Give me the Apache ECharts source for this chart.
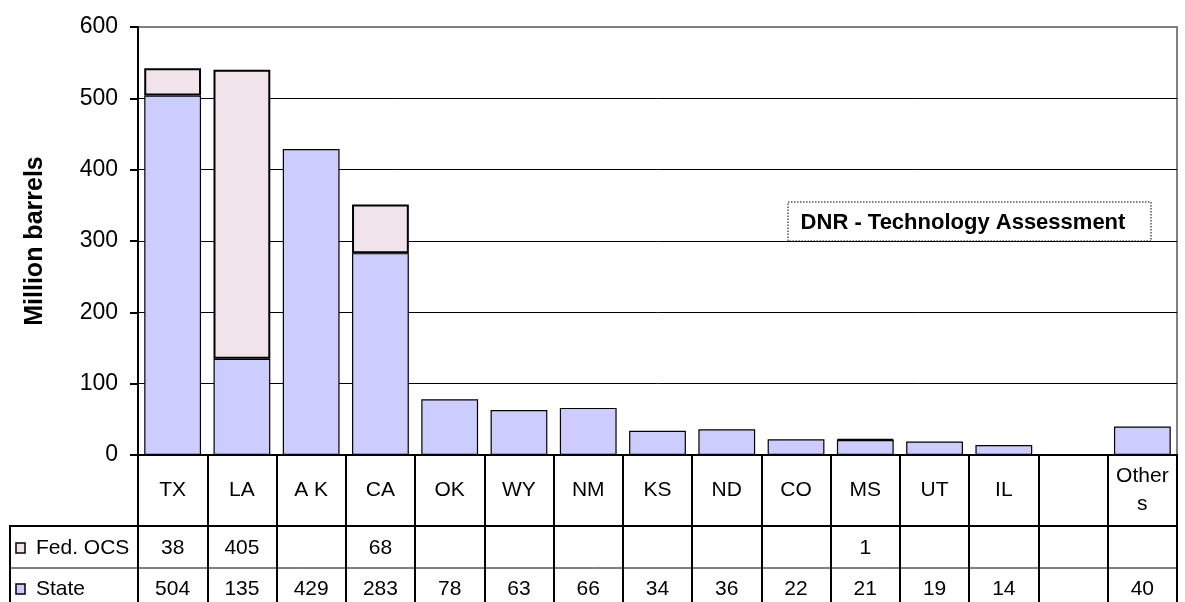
<!DOCTYPE html>
<html>
<head>
<meta charset="utf-8">
<script src="https://cdn.jsdelivr.net/npm/echarts@6/dist/echarts.min.js"></script>
<style>
  html, body { margin: 0; padding: 0; background: #fff; }
  #main { width: 1185px; height: 602px; }
</style>
</head>
<body>
<div id="main"></div>
<script type="text/javascript">
// data
var states = ['TX', 'LA', 'AK', 'CA', 'OK', 'WY', 'NM', 'KS', 'ND', 'CO', 'MS', 'UT', 'IL', '', 'Others'];
var stateLabels = ['TX', 'LA', 'A K', 'CA', 'OK', 'WY', 'NM', 'KS', 'ND', 'CO', 'MS', 'UT', 'IL', '', 'Other\ns'];
var fedOcs = [38, 405, null, 68, null, null, null, null, null, null, 1, null, null, null, null];
var stateVals = [504, 135, 429, 283, 78, 63, 66, 34, 36, 22, 21, 19, 14, null, 40];
var yTicks = [0, 100, 200, 300, 400, 500, 600];

var fedColor = '#f0e4ea';
var stateColor = '#ccccff';
var font = 'Liberation Sans, Arial, sans-serif';

var chart = echarts.init(document.getElementById('main'));

var option = {
  animation: false,
  grid: { left: 138, right: 8, top: 27, bottom: 147, show: true, borderColor: '#808080', borderWidth: 2, backgroundColor: 'transparent' },
  xAxis: {
    type: 'category',
    data: states,
    axisLine: { lineStyle: { color: '#000', width: 2 } },
    axisTick: { show: true, length: 147, lineStyle: { color: '#000', width: 2 } },
    axisLabel: { show: false }
  },
  yAxis: {
    type: 'value',
    min: yTicks[0],
    max: yTicks[yTicks.length - 1],
    interval: 100,
    name: 'Million barrels',
    nameLocation: 'middle',
    nameGap: 90,
    nameTextStyle: { fontFamily: font, fontSize: 25, fontWeight: 'bold', color: '#000' },
    axisLine: { show: true, lineStyle: { color: '#000', width: 2 } },
    axisTick: { show: true, length: 8, lineStyle: { color: '#000', width: 2 } },
    axisLabel: { fontFamily: font, fontSize: 23, color: '#000', margin: 20 },
    splitLine: { showMaxLine: false, lineStyle: { color: '#000', width: 1 } }
  },
  series: [
    {
      name: 'State',
      type: 'bar',
      stack: 'total',
      data: stateVals,
      barCategoryGap: '18%',
      itemStyle: { color: stateColor, borderColor: '#000', borderWidth: 1.2 }
    },
    {
      name: 'Fed. OCS',
      type: 'bar',
      stack: 'total',
      data: fedOcs,
      itemStyle: { color: fedColor, borderColor: '#000', borderWidth: 2 }
    }
  ]
};
chart.setOption(option);

// data table under the axis, placed from the axis scale
var rowCat = 490, rowFed = 548, rowState = 589;
var tableLeft = 10;
var x0 = chart.convertToPixel({ xAxisIndex: 0 }, 0);
var x1 = chart.convertToPixel({ xAxisIndex: 0 }, 1);
var colW = x1 - x0;
var tableRight = chart.convertToPixel({ xAxisIndex: 0 }, states.length - 1) + colW / 2;
var gfx = [];

function cellText(x, y, txt, align, lh) {
  gfx.push({
    type: 'text', x: x, y: y, silent: true,
    style: { text: txt, fontFamily: font, fontSize: 21, fill: '#000', align: align || 'center', verticalAlign: 'middle', lineHeight: lh || 24 }
  });
}

states.forEach(function (s, i) {
  var cx = chart.convertToPixel({ xAxisIndex: 0 }, i);
  cellText(cx, rowCat, stateLabels[i], 'center', 28);
  if (fedOcs[i] != null) cellText(cx, rowFed, String(fedOcs[i]));
  if (stateVals[i] != null) cellText(cx, rowState, String(stateVals[i]));
});

// row lines and legend cells
gfx.push({ type: 'line', shape: { x1: tableLeft, y1: 526, x2: tableRight, y2: 526 }, style: { stroke: '#000', lineWidth: 2 } });
gfx.push({ type: 'line', shape: { x1: tableLeft, y1: 568, x2: tableRight, y2: 568 }, style: { stroke: '#000', lineWidth: 1 } });
gfx.push({ type: 'line', shape: { x1: tableLeft, y1: 525, x2: tableLeft, y2: 602 }, style: { stroke: '#000', lineWidth: 2 } });
gfx.push({ type: 'rect', shape: { x: 16, y: 543, width: 9, height: 10 }, style: { fill: fedColor, stroke: '#000', lineWidth: 1.5 } });
gfx.push({ type: 'rect', shape: { x: 16, y: 584, width: 9, height: 10 }, style: { fill: stateColor, stroke: '#000', lineWidth: 1.5 } });
cellText(36, rowFed, 'Fed. OCS', 'left');
cellText(36, rowState, 'State', 'left');

// annotation box
gfx.push({ type: 'rect', shape: { x: 788, y: 202, width: 363, height: 39 }, style: { fill: '#fff', stroke: '#000', lineWidth: 1, lineDash: [1.5, 1.5] } });
gfx.push({
  type: 'text', x: 963, y: 223,
  style: { text: 'DNR - Technology Assessment', fontFamily: font, fontSize: 22, fontWeight: 'bold', fill: '#000', align: 'center', verticalAlign: 'middle' }
});

chart.setOption({ graphic: gfx });
</script>
</body>
</html>
